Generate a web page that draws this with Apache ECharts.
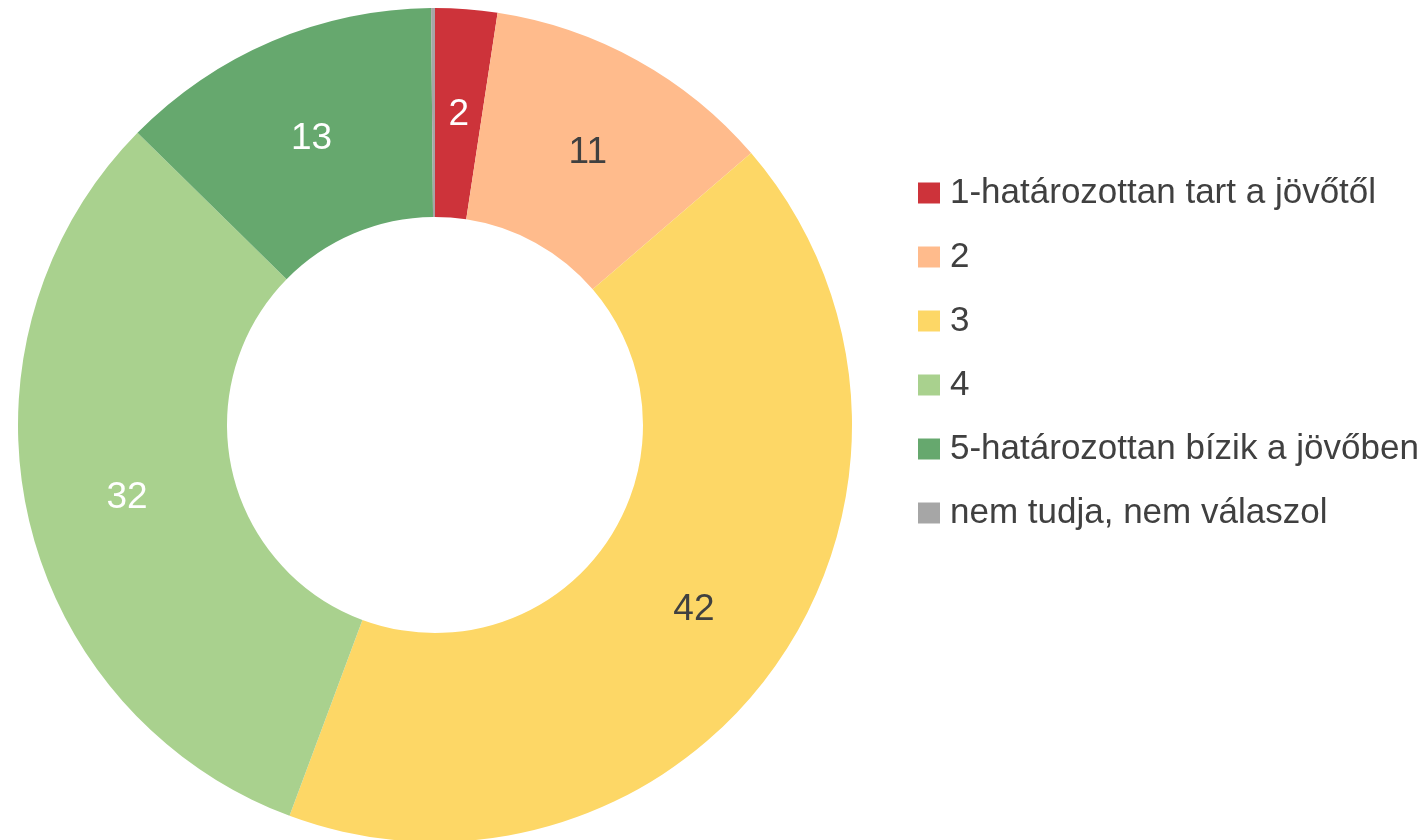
<!DOCTYPE html>
<html>
<head>
<meta charset="utf-8">
<script src="https://cdn.jsdelivr.net/npm/echarts@6/dist/echarts.min.js"></script>
<style>
html,body{margin:0;padding:0;background:#fff;}
#c{width:1424px;height:840px;}
</style>
</head>
<body>
<div id="c"></div>
<script>
var categories = ['1-határozottan tart a jövőtől', '2', '3', '4', '5-határozottan bízik a jövőben', 'nem tudja, nem válaszol'];
var values = [2.4, 11.3, 42.0, 31.7, 12.5, 0.15];
var colors = ['#CD333A', '#FFBB8C', '#FDD766', '#A9D18E', '#66A86E', '#A6A6A6'];
var labelColors = ['#ffffff', '#404040', '#404040', '#ffffff', '#ffffff', '#404040'];
var showLabel = [true, true, true, true, true, false];

var FONT = '"Liberation Sans Narrow", "Arial Narrow", "Liberation Sans", Arial, sans-serif';
var chart = echarts.init(document.getElementById('c'));
var data = categories.map(function (c, i) {
  return {
    name: c,
    value: values[i],
    itemStyle: { color: colors[i] },
    label: { show: showLabel[i], color: labelColors[i] }
  };
});
chart.setOption({
  animation: false,
  legend: {
    orient: 'vertical',
    left: 918,
    top: 173,
    padding: 0,
    icon: 'rect',
    itemWidth: 22,
    itemHeight: 21,
    itemGap: 24,
    textStyle: { fontFamily: FONT, fontSize: 35, color: '#404040', lineHeight: 40, padding: [0, 0, 0, 5] },
    data: categories
  },
  series: [{
    type: 'pie',
    center: [435, 425],
    radius: [208, 417],
    startAngle: 90,
    clockwise: true,
    avoidLabelOverlap: false,
    label: {
      position: 'inside',
      fontFamily: FONT,
      fontSize: 37,
      offset: [0, 4],
      formatter: function (p) { return Math.round(p.value); }
    },
    labelLine: { show: false },
    itemStyle: { borderWidth: 0 },
    emphasis: { disabled: true },
    data: data
  }]
});
</script>
</body>
</html>
